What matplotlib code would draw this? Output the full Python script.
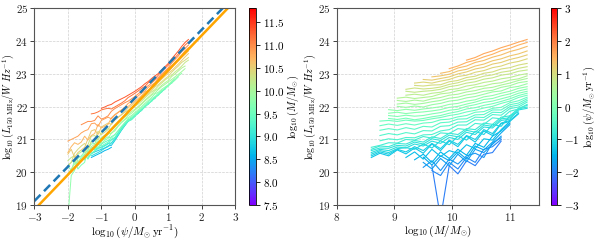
"""
Radio luminosity at 150 MHz against star formation rate and stellar mass.

Left: one line per stellar-mass bin, coloured by mass.
Right: one line per SFR bin, coloured by SFR.
Output: out.png
"""

import matplotlib

matplotlib.use("Agg")
import matplotlib.pyplot as plt
import numpy as np
from matplotlib.cm import ScalarMappable
from matplotlib.colors import Normalize

plt.rcParams.update({
    "font.family": "serif",
    "font.serif": ["cmr10", "DejaVu Serif"],
    "mathtext.fontset": "cm",
    "axes.formatter.use_mathtext": True,
    "font.size": 8,
})

# stellar-mass bins, log10(M/Msun)
MASS = [8.60, 8.75, 8.90, 9.05, 9.20, 9.35, 9.50, 9.65, 9.80, 9.95,
        10.10, 10.25, 10.40, 10.55, 10.70, 10.85, 11.00, 11.15, 11.30]

# SFR bins, log10(psi / Msun yr^-1)
SFR = [1.6, 1.5, 1.4, 1.3, 1.2, 1.1, 1.0, 0.9, 0.8, 0.7, 0.6, 0.5, 0.4,
       0.3, 0.2, 0.1, 0.0, -0.1, -0.2, -0.3, -0.4, -0.5, -0.6, -0.7,
       -0.8, -0.9, -1.0, -1.1, -1.2, -1.3, -1.4, -1.5, -1.6, -1.7, -1.8,
       -1.9, -2.0]

# index of the first mass bin that each SFR row covers
ROW_START = [11, 9, 8, 7, 6, 5, 5, 4, 4, 4, 3, 3, 3,
             3, 2, 2, 2, 2, 1, 1, 1, 1, 1, 0,
             0, 0, 0, 0, 0, 0, 4, 5, 6, 6, 6,
             7, 7]

# log10(L_150MHz / W Hz^-1) along each SFR row
LUM_ROWS = [
    [23.42, 23.50, 23.62, 23.70, 23.80, 23.88, 23.97, 24.05],
    [23.16, 23.24, 23.35, 23.42, 23.52, 23.60, 23.71, 23.78, 23.88, 23.96],
    [23.02, 23.07, 23.18, 23.24, 23.35, 23.41, 23.51, 23.58, 23.68, 23.75,
     23.84],
    [22.91, 22.94, 22.99, 23.09, 23.14, 23.24, 23.30, 23.40, 23.46, 23.55,
     23.61, 23.70],
    [22.83, 22.81, 22.86, 22.91, 23.00, 23.06, 23.15, 23.20, 23.30, 23.35,
     23.44, 23.50, 23.58],
    [22.72, 22.75, 22.72, 22.78, 22.83, 22.92, 22.96, 23.05, 23.10, 23.19,
     23.24, 23.33, 23.38, 23.46],
    [22.65, 22.63, 22.66, 22.67, 22.76, 22.80, 22.89, 22.93, 23.02, 23.06,
     23.15, 23.19, 23.27, 23.32],
    [22.53, 22.57, 22.54, 22.56, 22.60, 22.68, 22.73, 22.81, 22.85, 22.93,
     22.97, 23.05, 23.09, 23.17, 23.22],
    [22.47, 22.44, 22.47, 22.49, 22.53, 22.61, 22.65, 22.72, 22.76, 22.84,
     22.88, 22.96, 23.00, 23.08, 23.12],
    [22.35, 22.38, 22.35, 22.41, 22.44, 22.52, 22.55, 22.63, 22.67, 22.74,
     22.78, 22.85, 22.89, 22.96, 23.01],
    [22.26, 22.29, 22.25, 22.28, 22.31, 22.39, 22.42, 22.49, 22.52, 22.60,
     22.63, 22.70, 22.73, 22.81, 22.85, 22.94],
    [22.19, 22.16, 22.20, 22.17, 22.24, 22.28, 22.35, 22.38, 22.45, 22.49,
     22.56, 22.59, 22.66, 22.72, 22.80, 22.86],
    [22.08, 22.11, 22.07, 22.10, 22.15, 22.19, 22.26, 22.29, 22.36, 22.40,
     22.47, 22.50, 22.59, 22.64, 22.73, 22.77],
    [22.01, 21.98, 22.02, 21.99, 22.06, 22.10, 22.17, 22.20, 22.27, 22.31,
     22.38, 22.45, 22.48, 22.58, 22.62, 22.70],
    [21.91, 21.88, 21.92, 21.89, 21.93, 21.96, 22.00, 22.07, 22.10, 22.17,
     22.21, 22.30, 22.34, 22.41, 22.47, 22.56, 22.61],
    [21.80, 21.83, 21.79, 21.82, 21.84, 21.87, 21.91, 21.98, 22.01, 22.08,
     22.14, 22.22, 22.25, 22.33, 22.39, 22.48, 22.54],
    [21.73, 21.70, 21.74, 21.71, 21.73, 21.78, 21.82, 21.89, 21.92, 22.01,
     22.06, 22.13, 22.17, 22.24, 22.31, 22.41, 22.47],
    [21.64, 21.61, 21.65, 21.60, 21.64, 21.69, 21.73, 21.80, 21.85, 21.93,
     21.97, 22.04, 22.09, 22.16, 22.24, 22.34, 22.41],
    [21.56, 21.58, 21.55, 21.59, 21.56, 21.58, 21.63, 21.67, 21.73, 21.77,
     21.84, 21.89, 21.96, 22.01, 22.10, 22.17, 22.28, 22.35],
    [21.42, 21.47, 21.43, 21.48, 21.44, 21.50, 21.52, 21.60, 21.62, 21.69,
     21.73, 21.83, 21.85, 21.95, 21.98, 22.12, 22.18, 22.29],
    [21.28, 21.33, 21.29, 21.36, 21.31, 21.40, 21.38, 21.51, 21.53, 21.62,
     21.63, 21.75, 21.76, 21.90, 21.90, 22.06, 22.11, 22.24],
    [21.12, 21.18, 21.14, 21.21, 21.17, 21.27, 21.26, 21.40, 21.42, 21.53,
     21.54, 21.68, 21.67, 21.83, 21.82, 22.00, 22.05, 22.19],
    [20.96, 21.02, 20.99, 21.06, 21.05, 21.14, 21.15, 21.26, 21.30, 21.44,
     21.44, 21.60, 21.59, 21.76, 21.74, 21.94, 21.99, 22.14],
    [20.76, 20.82, 20.90, 20.89, 21.00, 20.98, 21.09, 21.04, 21.20, 21.18,
     21.33, 21.30, 21.49, 21.46, 21.66, 21.63, 21.86, 21.93, 22.07],
    [20.70, 20.80, 20.78, 20.88, 20.86, 20.97, 20.92, 21.08, 21.03, 21.19,
     21.15, 21.33, 21.30, 21.50, 21.46, 21.68, 21.72, 21.95, 22.04],
    [20.66, 20.74, 20.73, 20.82, 20.80, 20.92, 20.86, 21.02, 20.97, 21.13,
     21.08, 21.28, 21.22, 21.44, 21.40, 21.63, 21.66, 21.93, 21.99],
    [20.60, 20.70, 20.66, 20.77, 20.74, 20.86, 20.80, 20.95, 20.88, 21.06,
     21.00, 21.22, 21.15, 21.38, 21.35, 21.58, 21.62, 21.90, 21.95],
    [20.55, 20.66, 20.60, 20.72, 20.75, 20.70, 20.86, 20.74, 20.96, 20.84,
     21.10, 20.98, 21.25, 21.15, 21.46, 21.40, 21.72, 21.84],
    [20.50, 20.62, 20.55, 20.70, 20.62, 20.78, 20.66, 20.88, 20.72, 20.98,
     20.85, 21.12, 21.00, 21.30, 21.18, 21.50, 21.58, 21.80],
    [20.45, 20.58, 20.50, 20.68, 20.56, 20.74, 20.58, 20.86, 20.66, 20.95,
     20.78, 21.10, 20.92, 21.26, 21.12, 21.48, 21.55, 21.78],
    [20.45, 20.62, 20.40, 20.70, 20.48, 20.66, 20.58, 20.84, 20.72, 21.02,
     20.98, 21.30, 21.55],
    [20.38, 20.55, 20.30, 20.62, 20.42, 20.70, 20.52, 20.88, 20.76, 21.10,
     21.26, 21.50],
    [20.46, 20.22, 20.50, 20.35, 20.62, 20.40, 20.80, 20.68, 20.92, 21.20,
     21.45],
    [20.30, 20.10, 20.42, 20.20, 20.55, 20.32, 20.70, 20.60, 20.85, 21.10],
    [20.15, 20.35, 20.05, 20.40, 20.25, 20.50, 20.58, 20.45, 20.90, 21.05],
    [20.05, 19.90, 20.30, 20.10, 20.45, 20.30, 20.70, 20.78, 21.00],
    [20.20, 18.60, 20.20, 19.95, 20.35, 20.20, 20.55, 20.60, 20.95],
]

# straight-line fits drawn on the left panel: (slope, intercept)
FIT_SOLID = (1.064, 22.05)
FIT_DASHED = (1.046, 22.26)

MASS_RANGE = (7.5, 11.8)
SFR_RANGE = (-3.0, 3.0)

YLABEL = r"$\log_{10}(L_{150\ \mathrm{MHz}}/W\ Hz^{-1})$"
SFR_LABEL = r"$\log_{10}(\psi/M_{\odot}\,\mathrm{yr}^{-1})$"
MASS_LABEL = r"$\log_{10}(M/M_{\odot})$"


def build_grid() -> np.ndarray:
    grid = np.full((len(SFR), len(MASS)), np.nan)
    for i, (start, row) in enumerate(zip(ROW_START, LUM_ROWS)):
        grid[i, start:start + len(row)] = row
    return grid


def style_axes(ax) -> None:
    ax.set_ylim(19, 25)
    ax.set_yticks(range(19, 26))
    ax.grid(True, ls="--", lw=0.5, color="#d0d0d0")
    ax.set_axisbelow(True)
    for spine in ax.spines.values():
        spine.set_color("#555555")
    ax.tick_params(colors="#222222", length=3, width=0.6, pad=1.5)
    ax.set_ylabel(YLABEL, fontsize=7.2)
    ax.yaxis.set_label_coords(-0.092, 0.5)


def main() -> None:
    grid = build_grid()
    sfr = np.array(SFR)
    mass = np.array(MASS)
    cmap = plt.get_cmap("rainbow")

    fig = plt.figure(figsize=(5.98, 2.40), dpi=100)
    ax1 = fig.add_axes([0.0575, 0.1458, 0.3360, 0.8194])
    cax1 = fig.add_axes([0.4169, 0.1458, 0.0112, 0.8194])
    ax2 = fig.add_axes([0.5630, 0.1458, 0.3378, 0.8194])
    cax2 = fig.add_axes([0.9208, 0.1458, 0.0105, 0.8194])

    # left: L vs SFR, one line per mass bin
    mnorm = Normalize(*MASS_RANGE)
    for j, m in enumerate(mass):
        col = grid[:, j]
        ok = ~np.isnan(col)
        ax1.plot(sfr[ok], col[ok], color=cmap(mnorm(m)), lw=0.7)

    xfit = np.array(SFR_RANGE)
    ax1.plot(xfit, FIT_SOLID[0] * xfit + FIT_SOLID[1], color="orange", lw=1.8)
    ax1.plot(xfit, FIT_DASHED[0] * xfit + FIT_DASHED[1], color="#1f77b4",
             lw=1.8, ls=(0, (3.5, 2)))

    ax1.set_xlim(*SFR_RANGE)
    ax1.set_xticks(range(-3, 4))
    ax1.set_xlabel(SFR_LABEL, labelpad=0)
    style_axes(ax1)

    cb1 = fig.colorbar(ScalarMappable(norm=mnorm, cmap=cmap), cax=cax1)
    cb1.set_ticks(np.arange(7.5, 11.6, 0.5))
    cb1.set_label(MASS_LABEL, labelpad=1, fontsize=7.5)
    cb1.outline.set_linewidth(0.6)
    cb1.ax.tick_params(length=3, width=0.6, pad=2)

    # right: L vs mass, one line per SFR bin
    snorm = Normalize(*SFR_RANGE)
    for i in range(len(sfr) - 1, -1, -1):
        row = grid[i]
        ok = ~np.isnan(row)
        ax2.plot(mass[ok], row[ok], color=cmap(snorm(sfr[i])), lw=0.8)

    ax2.set_xlim(8, 11.5)
    ax2.set_xticks([8, 9, 10, 11])
    ax2.set_xlabel(MASS_LABEL, labelpad=0)
    style_axes(ax2)

    cb2 = fig.colorbar(ScalarMappable(norm=snorm, cmap=cmap), cax=cax2)
    cb2.set_ticks(range(-3, 4))
    cb2.set_label(SFR_LABEL, labelpad=1, fontsize=7.5)
    cb2.outline.set_linewidth(0.6)
    cb2.ax.tick_params(length=3, width=0.6, pad=2)

    fig.savefig("out.png", dpi=100)
    plt.close(fig)


if __name__ == "__main__":
    main()
